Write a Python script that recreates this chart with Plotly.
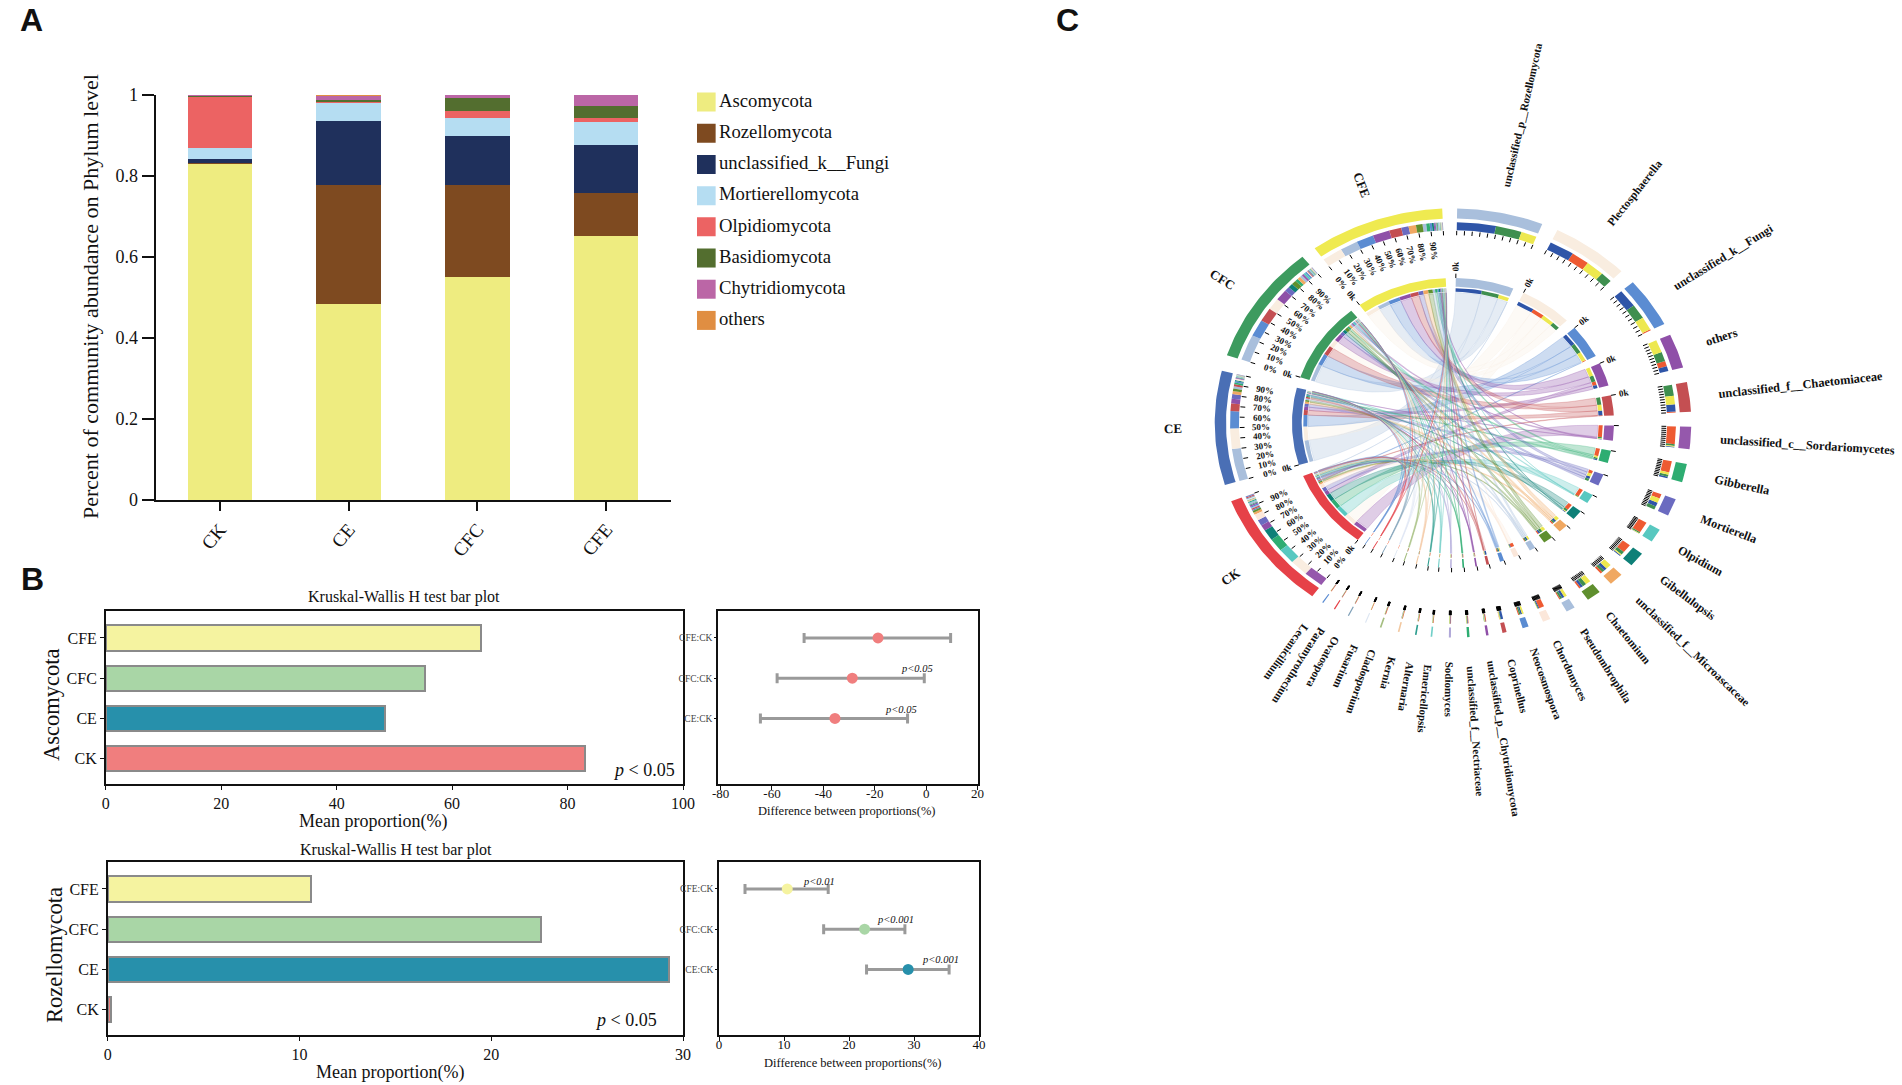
import math
import plotly.graph_objects as go

W, H = 1902, 1085
SERIF = "Liberation Serif"

# ---------- Panel A ----------
groups = ["CK", "CE", "CFC", "CFE"]
phyla = ["Ascomycota", "Rozellomycota", "unclassified_k__Fungi", "Mortierellomycota",
         "Olpidiomycota", "Basidiomycota", "Chytridiomycota", "others"]
phyla_colors = ["#EEEC80", "#7E4A20", "#1F305C", "#B5DDF2", "#EC6363", "#536E2F", "#BB66A6", "#E08E42"]
ascomycota = [0.8316, 0.484, 0.551, 0.651]
rozellomycota = [0.001, 0.294, 0.227, 0.107]
unclassified_fungi = [0.010, 0.159, 0.122, 0.119]
mortierellomycota = [0.026, 0.045, 0.042, 0.056]
olpidiomycota = [0.128, 0.001, 0.019, 0.011]
basidiomycota = [0.003, 0.004, 0.032, 0.028]
chytridiomycota = [0.0005, 0.0125, 0.007, 0.028]
others_phylum = [0.0004, 0.0005, 0.0, 0.0]
phyla_values = [ascomycota, rozellomycota, unclassified_fungi, mortierellomycota,
                olpidiomycota, basidiomycota, chytridiomycota, others_phylum]

# ---------- Panel B ----------
kw_groups = ["CK", "CE", "CFC", "CFE"]
kw_colors = ["#F07E7E", "#2790AB", "#A9D6A6", "#F5F3A0"]
asco_mean = [83, 48.4, 55.3, 65]
rozel_mean = [0.15, 29.27, 22.6, 10.6]
pair_labels = ["CE:CK", "CFC:CK", "CFE:CK"]
asco_diff = [-35.5, -28.75, -18.75]
asco_lo = [-64.5, -58, -47.5]
asco_hi = [-7.25, -0.75, 9.5]
rozel_diff = [29.1, 22.4, 10.5]
rozel_lo = [22.7, 16.1, 4]
rozel_hi = [35.4, 28.6, 16.8]

# ---------- Panel C ----------
samples = ["CK", "CE", "CFC", "CFE"]
sample_start = [-143.8, -106.8, -71.6, -35.5]
sample_end = [-111.4, -75.9, -39.2, -2.6]
sample_main = ["#E64148", "#4A6FB5", "#3D9B5F", "#EFEA50"]
sample_comp = ["#EE5A32", "#2F55A8", "#3F8F4F", "#EDE84F"]
genera = ["unclassified_p__Rozellomycota", "Plectosphaerella", "unclassified_k__Fungi", "others",
          "unclassified_f__Chaetomiaceae", "unclassified_c__Sordariomycetes", "Gibberella", "Mortierella",
          "Olpidium", "Gibellulopsis", "unclassified_f__Microascaceae", "Chaetomium", "Pseudombrophila",
          "Chordomyces", "Neocosmospora", "Coprinellus", "unclassified_p__Chytridiomycota",
          "unclassified_f__Nectriaceae", "Sodiomyces", "Emericellopsis", "Alternaria", "Kernia",
          "Cladosporium", "Fusarium", "Ovatospora", "Paramyrothecium", "Lecanicillium"]
genus_start = [1, 26, 49, 65.7, 79, 91, 101, 110.8, 119.8, 127.5, 135, 142, 149.3, 155.9, 161.5, 167,
               171.4, 176, 180.5, 185, 188.8, 193, 197.5, 201.4, 205.9, 209.7, 213]
genus_end = [22, 45, 62.5, 75, 87, 97, 106, 115.5, 123.5, 131.5, 138.5, 145.5, 151.5, 157.8, 163, 168,
             172, 176.6, 181, 185.4, 189.2, 193.4, 197.9, 201.7, 206.2, 210, 213.3]
genus_colors = ["#A9BFDC", "#F9EDE0", "#5B8CD2", "#8F50A8", "#C44F52", "#9558AC", "#2EAD72", "#6B6BC0",
                "#58C8C0", "#0E8078", "#F0A862", "#5F8F2E", "#A9BFDC", "#FBE7DA", "#5B8CD2", "#C44F52",
                "#8F50A8", "#2EAD72", "#B0A8D8", "#70CFC8", "#2E9E90", "#F2C8A0", "#A5BE80", "#DDE6F2",
                "#7FA0B8", "#E64148", "#5B8CD2"]
links_ck = [0.1, 13.9, 1, 5, 1, 15, 11, 5, 13, 9, 2, 1.5, 1, 5, 1, 0.2, 1, 0.8, 0.8, 0.8, 0.8, 0.8, 0.8, 0.8, 0.8, 0.8, 0.8]
links_ce = [30, 19, 16, 4.5, 6.8, 0.6, 1.5, 4.3, 0.2, 1, 2.8, 2.2, 2.2, 1, 1.4, 2, 0.6, 0.6, 0.5, 0.3, 0.3, 0.3, 0.3, 0.2, 0.2, 0.2, 0.2]
links_cfc = [20, 9, 13, 8.5, 10.5, 1.5, 2.2, 3.7, 1.5, 3.3, 2.2, 3.3, 1.8, 0.6, 1.2, 0.5, 0.5, 0.5, 0.5, 0.5, 0.4, 0.4, 0.3, 0.3, 0.2, 0.2, 0.2]
links_cfe = [12, 13.8, 11.6, 11.5, 8.2, 0.7, 2.3, 5, 0.5, 1.2, 5, 4.4, 2.5, 0.4, 1.5, 0.5, 0.6, 0.5, 0.5, 0.5, 0.4, 0.4, 0.3, 0.3, 0.2, 0.2, 0.2]
links = [links_ck, links_ce, links_cfc, links_cfe]
percent_labels = ["0%", "10%", "20%", "30%", "40%", "50%", "60%", "70%", "80%", "90%"]

fig = go.Figure()
annotations = []


def dom_x(a, b):
    return [a / W, b / W]


def dom_y(a, b):
    return [1 - b / H, 1 - a / H]


def text_px(x, y, text, size, angle=0, color="#111", family=SERIF, xanchor="center"):
    annotations.append(dict(xref="paper", yref="paper", x=x / W, y=1 - y / H, text=text,
                            showarrow=False, textangle=angle, xanchor=xanchor, yanchor="middle",
                            font=dict(size=size, family=family, color=color)))


# ---------- Panel A traces ----------
for name, vals, col in zip(phyla, phyla_values, phyla_colors):
    fig.add_trace(go.Bar(x=groups, y=vals, name=name, marker=dict(color=col, line=dict(width=0)),
                         width=0.5, showlegend=False, xaxis="x", yaxis="y"))
fig.add_trace(go.Scatter(x=[0] * len(phyla), y=list(range(len(phyla))), mode="markers+text", text=phyla,
                         textposition="middle right", textfont=dict(size=18.7, family=SERIF, color="#111"),
                         marker=dict(symbol="square", size=19, color=phyla_colors), showlegend=False,
                         hoverinfo="skip", xaxis="x2", yaxis="y2"))

axis_black = dict(showgrid=False, zeroline=False, automargin=False, showline=True, linecolor="#111",
                  ticks="outside", tickcolor="#111")
layout = dict(
    xaxis=dict(domain=dom_x(155.5, 670.6), anchor="y", type="category", categoryorder="array", categoryarray=groups,
               range=[-0.5, 3.5], linewidth=2, ticklen=9, tickwidth=1.5, tickangle=-50,
               tickfont=dict(size=19, family=SERIF, color="#111"), **axis_black),
    yaxis=dict(domain=dom_y(95, 500), anchor="x", range=[0, 1], tickvals=[0, 0.2, 0.4, 0.6, 0.8, 1],
               ticktext=["0", "0.2", "0.4", "0.6", "0.8", "1"], linewidth=2, ticklen=12, tickwidth=1.5,
               tickfont=dict(size=18, family=SERIF, color="#111"), **axis_black),
    xaxis2=dict(domain=dom_x(697, 960), anchor="y2", range=[-0.036, 1], visible=False, automargin=False),
    yaxis2=dict(domain=dom_y(86.5, 336), anchor="x2", range=[7.5, -0.5], visible=False, automargin=False),
)
text_px(90, 297, "Percent of community abundance on Phylum level", 22, angle=-90)


# ---------- Panel B traces ----------
def kw_panel(n, box, box2, means, xmax, xticks, diff, lo, hi, dr, dticks, dcolors):
    xa, ya, xb, yb = f"x{n}", f"y{n}", f"x{n+1}", f"y{n+1}"
    ypos = list(range(len(kw_groups)))
    fig.add_trace(go.Bar(x=means, y=ypos, orientation="h", width=0.63, showlegend=False,
                         marker=dict(color=kw_colors, line=dict(color="#8A8A8A", width=2)),
                         xaxis=xa, yaxis=ya))
    dpos = list(range(1, len(kw_groups)))
    fig.add_trace(go.Scatter(x=diff, y=dpos, mode="markers", showlegend=False,
                             marker=dict(size=11, color=dcolors),
                             error_x=dict(type="data", symmetric=False,
                                          array=[h - d for h, d in zip(hi, diff)],
                                          arrayminus=[d - l for d, l in zip(diff, lo)],
                                          color="#9A9A9A", thickness=3, width=5),
                             xaxis=xb, yaxis=yb))
    frame = dict(showgrid=False, zeroline=False, automargin=False, showline=True, linecolor="#111", linewidth=1.5,
                 mirror=True, ticks="outside", tickcolor="#111", ticklen=4)
    layout[f"xaxis{n}"] = dict(domain=dom_x(box[0], box[1]), anchor=f"y{n}", range=[0, xmax], tickvals=xticks,
                               tickfont=dict(size=16, family=SERIF, color="#111"), **frame)
    layout[f"yaxis{n}"] = dict(domain=dom_y(box[2], box[3]), anchor=f"x{n}", range=[-0.63, 3.67], tickvals=ypos,
                               ticktext=kw_groups, tickfont=dict(size=16, family=SERIF, color="#111"), **frame)
    layout[f"xaxis{n+1}"] = dict(domain=dom_x(box2[0], box2[1]), anchor=f"y{n+1}", range=dr, tickvals=dticks,
                                 ticktext=[str(v) for v in dticks], ticklabelstandoff=-7,
                                 tickfont=dict(size=13, family=SERIF, color="#111"), **frame)
    layout[f"yaxis{n+1}"] = dict(domain=dom_y(box2[2], box2[3]), anchor=f"x{n+1}", range=[-0.63, 3.67], tickvals=dpos,
                                 ticktext=pair_labels, tickfont=dict(size=9.5, family=SERIF, color="#444"),
                                 **{**frame, "ticklen": 2})


kw_panel(3, (105.8, 683, 611, 784), (718, 977.6, 611, 784), asco_mean, 100, [0, 20, 40, 60, 80, 100],
         asco_diff, asco_lo, asco_hi, [-81, 20], [-80, -60, -40, -20, 0, 20], ["#F07E7E"] * 3)
kw_panel(5, (107.7, 683, 862, 1035), (719, 979, 862, 1035), rozel_mean, 30, [0, 10, 20, 30],
         rozel_diff, rozel_lo, rozel_hi, [0, 40], [0, 10, 20, 30, 40], ["#2790AB", "#A9D6A6", "#F5F3A0"])

text_px(404, 597, "Kruskal-Wallis H test bar plot", 16)
text_px(396, 849.6, "Kruskal-Wallis H test bar plot", 16)
text_px(373, 821, "Mean proportion(%)", 18)
text_px(390, 1072, "Mean proportion(%)", 18)
text_px(51, 705, "Ascomycota", 22.5, angle=-90)
text_px(54.5, 955.6, "Rozellomycota", 22.5, angle=-90)
text_px(644, 770, "<i>p</i> &lt; 0.05", 18)
text_px(626, 1020, "<i>p</i> &lt; 0.05", 18)
text_px(846, 811, "Difference between proportions(%)", 12.5)
text_px(852, 1063, "Difference between proportions(%)", 12.5)
text_px(917, 668.4, "<i>p&lt;0.05</i>", 10.5)
text_px(900.6, 709, "<i>p&lt;0.05</i>", 10.5)
text_px(819, 881.5, "<i>p&lt;0.01</i>", 10.5)
text_px(895.5, 919.6, "<i>p&lt;0.001</i>", 10.5)
text_px(940, 959, "<i>p&lt;0.001</i>", 10.5)

text_px(31, 20, "<b>A</b>", 32, family="Liberation Sans")
text_px(32, 579, "<b>B</b>", 32, family="Liberation Sans")
text_px(1067, 20, "<b>C</b>", 32, family="Liberation Sans")

# ---------- Panel C geometry ----------
CX, CY, RX, RY = 1453, 423, 161, 145
R_LINK, R_COMP_IN, R_COMP_OUT, R_MAIN_IN, R_MAIN_OUT = 0.90, 0.905, 0.93, 0.94, 1.0
R2_COMP_IN, R2_COMP_OUT, R2_MAIN_IN, R2_MAIN_OUT = 1.33, 1.385, 1.41, 1.48


def pt(r, a):
    t = math.radians(a)
    return r * math.sin(t), r * math.cos(t)


def arc(r, a, b, step=1.0):
    n = max(2, int(abs(b - a) / step) + 2)
    return [pt(r, a + (b - a) * i / (n - 1)) for i in range(n)]


polys = {}


def add_band(r0, r1, a, b, color):
    pts = arc(r1, a, b) + arc(r0, b, a)
    pts.append(pts[0])
    polys.setdefault(color, []).append(pts)


def rgba(hex_color, alpha):
    h = hex_color.lstrip("#")
    return f"rgba({int(h[0:2],16)},{int(h[2:4],16)},{int(h[4:6],16)},{alpha})"


def bezier(p0, p1, n=40):
    out = []
    for i in range(1, n):
        t = i / n
        k = (1 - t) ** 2
        m = t ** 2
        out.append((k * p0[0] + m * p1[0], k * p0[1] + m * p1[1]))
    return out


n_s, n_g = len(samples), len(genera)
col_tot = [sum(links[s]) for s in range(n_s)]
row_tot = [sum(links[s][g] for s in range(n_s)) for g in range(n_g)]

s_span = {}
for s in range(n_s):
    a = sample_start[s]
    k = (sample_end[s] - sample_start[s]) / col_tot[s]
    for g in sorted(range(n_g), key=lambda i: -links[s][i]):
        w = links[s][g] * k
        s_span[(s, g)] = (a, a + w)
        a += w
g_span = {}
for g in range(n_g):
    a = genus_start[g]
    k = (genus_end[g] - genus_start[g]) / row_tot[g]
    for s in sorted(range(n_s), key=lambda i: -links[i][g]):
        w = links[s][g] * k
        g_span[(s, g)] = (a, a + w)
        a += w

XA, YA = "x7", "y7"
for g in range(n_g):
    xs, ys = [], []
    for s in range(n_s):
        a1, a2 = s_span[(s, g)]
        b1, b2 = g_span[(s, g)]
        A = arc(R_LINK, a1, a2, 0.5)
        B = arc(R_LINK, b1, b2, 0.5)
        path = A + bezier(A[-1], B[0]) + B + bezier(B[-1], A[0]) + [A[0]]
        xs += [p[0] for p in path] + [None]
        ys += [p[1] for p in path] + [None]
    fig.add_trace(go.Scatter(x=xs, y=ys, mode="lines", fill="toself", fillcolor=rgba(genus_colors[g], 0.3),
                             line=dict(width=0.6, color=rgba(genus_colors[g], 0.45)),
                             hoverinfo="skip", showlegend=False, xaxis=XA, yaxis=YA))

for s in range(n_s):
    for r0, r1 in ((R_MAIN_IN, R_MAIN_OUT), (R2_MAIN_IN, R2_MAIN_OUT)):
        add_band(r0, r1, sample_start[s], sample_end[s], sample_main[s])
    for g in range(n_g):
        a, b = s_span[(s, g)]
        add_band(R_COMP_IN, R_COMP_OUT, a, b, genus_colors[g])
        add_band(R2_COMP_IN, R2_COMP_OUT, a, b, genus_colors[g])
for g in range(n_g):
    for r0, r1 in ((R_MAIN_IN, R_MAIN_OUT), (R2_MAIN_IN, R2_MAIN_OUT)):
        add_band(r0, r1, genus_start[g], genus_end[g], genus_colors[g])
    for s in range(n_s):
        a, b = g_span[(s, g)]
        add_band(R_COMP_IN, R_COMP_OUT, a, b, sample_comp[s])
        add_band(R2_COMP_IN, R2_COMP_OUT, a, b, sample_comp[s])
for color, plist in polys.items():
    xs, ys = [], []
    for pts in plist:
        xs += [p[0] for p in pts] + [None]
        ys += [p[1] for p in pts] + [None]
    fig.add_trace(go.Scatter(x=xs, y=ys, mode="lines", fill="toself", fillcolor=color, line=dict(width=0, color=color),
                             hoverinfo="skip", showlegend=False, xaxis=XA, yaxis=YA))

tx, ty = [], []
starts = sample_start + genus_start
ends = sample_end + genus_end
for a, b in zip(starts, ends):
    p, q = pt(1.0, a), pt(1.03, a)
    tx += [p[0], q[0], None]
    ty += [p[1], q[1], None]
    for i in range(11):
        c = a + (b - a) * i / 10
        p, q = pt(R2_COMP_IN - 0.005, c), pt(R2_COMP_IN - 0.035, c)
        tx += [p[0], q[0], None]
        ty += [p[1], q[1], None]
fig.add_trace(go.Scatter(x=tx, y=ty, mode="lines", line=dict(width=1, color="#000"), hoverinfo="skip",
                         showlegend=False, xaxis=XA, yaxis=YA))

layout["xaxis7"] = dict(domain=dom_x(1100, 1902), anchor=YA, range=[(1100 - CX) / RX, (1902 - CX) / RX],
                        visible=False, automargin=False)
layout["yaxis7"] = dict(domain=dom_y(5, 850), anchor=XA, range=[(CY - 850) / RY, (CY - 5) / RY],
                        visible=False, automargin=False)


def label_unit(ux, uy, text, size, angle):
    annotations.append(dict(xref=XA, yref=YA, x=ux, y=uy, text=f"<b>{text}</b>", showarrow=False, textangle=angle,
                            xanchor="center", yanchor="middle", font=dict(size=size, family=SERIF, color="#111")))


def radial_dir(a):
    t = math.radians(a)
    dx, dy = RX * math.sin(t), RY * math.cos(t)
    n = math.hypot(dx, dy)
    return dx / n, dy / n


for s in range(n_s):
    mid = (sample_start[s] + sample_end[s]) / 2
    dx, dy = radial_dir(mid)
    rot = -math.degrees(math.atan2(-dy, -dx))
    u = pt(1.74, mid)
    label_unit(u[0], u[1], samples[s], 13, rot)
    for i, lab in enumerate(percent_labels):
        c = sample_start[s] + (sample_end[s] - sample_start[s]) * i / 10
        dx, dy = radial_dir(c)
        u = pt(1.19, c)
        label_unit(u[0], u[1], lab, 9, -math.degrees(math.atan2(-dy, -dx)))
    dx, dy = radial_dir(sample_start[s])
    u = pt(1.08, sample_start[s])
    label_unit(u[0], u[1], "0k", 9, -math.degrees(math.atan2(-dy, -dx)))

for g in range(n_g):
    mid = (genus_start[g] + genus_end[g]) / 2
    dx, dy = radial_dir(mid)
    rot = -math.degrees(math.atan2(dy, dx))
    size = 11 + 1.4 * math.sin(math.radians(mid)) ** 2
    L = len(genera[g]) * size * 0.45
    ux, uy = pt(1.67, mid)
    label_unit(ux + dx * L / 2 / RX, uy + dy * L / 2 / RY, genera[g], size, rot)
    if g <= 4:
        d2x, d2y = radial_dir(genus_start[g])
        u = pt(1.08, genus_start[g])
        label_unit(u[0], u[1], "0k", 9, -math.degrees(math.atan2(d2y, d2x)))

fig.update_layout(template="none", width=W, height=H, margin=dict(l=0, r=0, t=0, b=0), paper_bgcolor="white",
                  plot_bgcolor="white", barmode="stack", annotations=annotations, showlegend=False, **layout)
fig.write_html("out.html", config=dict(displayModeBar=False),
               post_script="document.body.style.margin='0';document.documentElement.style.overflow='hidden';")
